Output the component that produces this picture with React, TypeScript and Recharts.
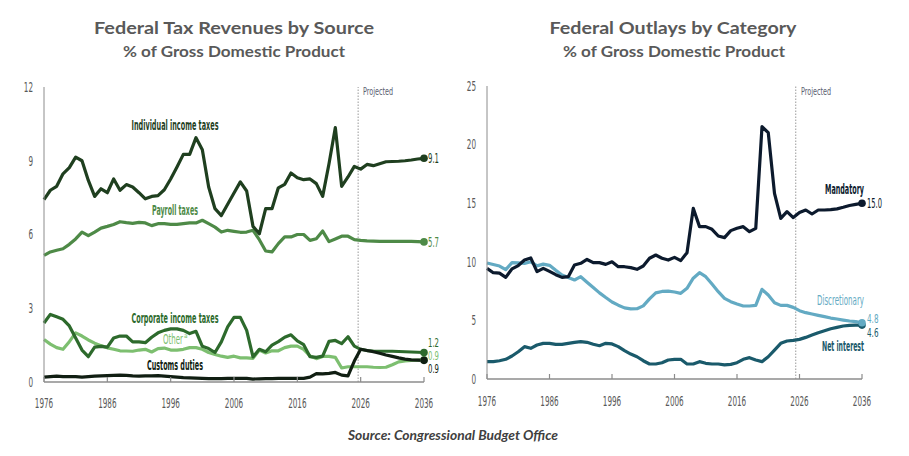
import React from 'react';
import { LineChart, Line, XAxis, YAxis, ReferenceLine } from 'recharts';

const years = [
  1976, 1977, 1978, 1979, 1980, 1981, 1982, 1983, 1984, 1985,
  1986, 1987, 1988, 1989, 1990, 1991, 1992, 1993, 1994, 1995,
  1996, 1997, 1998, 1999, 2000, 2001, 2002, 2003, 2004, 2005,
  2006, 2007, 2008, 2009, 2010, 2011, 2012, 2013, 2014, 2015,
  2016, 2017, 2018, 2019, 2020, 2021, 2022, 2023, 2024, 2025,
  2026, 2027, 2028, 2029, 2030, 2031, 2032, 2033, 2034, 2035, 2036,
];

// revenues, % of GDP
const individualIncome = [
  7.42, 7.8, 7.96, 8.47, 8.72, 9.15, 9.0, 8.2, 7.55, 7.86,
  7.7, 8.26, 7.8, 8.03, 7.93, 7.7, 7.45, 7.55, 7.58, 7.82,
  8.26, 8.75, 9.26, 9.26, 9.94, 9.45, 7.93, 7.05, 6.77, 7.23,
  7.69, 8.14, 7.77, 6.33, 6.03, 7.05, 7.05, 7.9, 8.04, 8.5,
  8.31, 8.23, 8.26, 8.07, 7.55, 8.88, 10.35, 7.96, 8.34, 8.77,
  8.66, 8.85, 8.8, 8.88, 8.96, 8.97, 8.98, 9.0, 9.03, 9.07, 9.1,
];
const payroll = [
  5.15, 5.29, 5.36, 5.42, 5.6, 5.82, 6.1, 5.95, 6.1, 6.26,
  6.33, 6.41, 6.52, 6.48, 6.45, 6.49, 6.47, 6.36, 6.44, 6.44,
  6.41, 6.41, 6.44, 6.47, 6.47, 6.58, 6.44, 6.3, 6.1, 6.17,
  6.13, 6.09, 6.1, 6.17, 5.79, 5.33, 5.29, 5.63, 5.9, 5.9,
  6.0, 6.0, 5.76, 5.83, 6.14, 5.71, 5.82, 5.93, 5.93, 5.79,
  5.76, 5.74, 5.73, 5.72, 5.72, 5.72, 5.72, 5.72, 5.72, 5.71, 5.7,
];
const corporate = [
  2.4, 2.75, 2.65, 2.55, 2.28, 1.79, 1.3, 1.03, 1.42, 1.45,
  1.42, 1.79, 1.87, 1.87, 1.63, 1.63, 1.6, 1.82, 2.0, 2.1,
  2.16, 2.16, 2.1, 1.97, 2.06, 1.45, 1.36, 1.2, 1.63, 2.24,
  2.63, 2.63, 2.1, 1.02, 1.33, 1.23, 1.5, 1.64, 1.82, 1.92,
  1.67, 1.52, 1.03, 1.0, 1.05, 1.65, 1.69, 1.56, 1.84, 1.46,
  1.33, 1.28, 1.26, 1.25, 1.25, 1.25, 1.24, 1.23, 1.22, 1.21, 1.2,
];
const other = [
  1.73, 1.54, 1.4, 1.33, 1.64, 2.0, 1.87, 1.71, 1.58, 1.48,
  1.39, 1.33, 1.27, 1.26, 1.25, 1.3, 1.33, 1.22, 1.36, 1.38,
  1.3, 1.3, 1.33, 1.4, 1.4, 1.33, 1.2, 1.12, 1.05, 1.0,
  1.05, 0.98, 0.98, 0.96, 1.3, 1.18, 1.27, 1.27, 1.4, 1.46,
  1.46, 1.33, 1.06, 0.95, 1.04, 1.04, 1.0, 0.57, 0.62, 0.62,
  0.62, 0.62, 0.6, 0.59, 0.6, 0.7, 0.82, 0.86, 0.88, 0.89, 0.9,
];
const customs = [
  0.2, 0.22, 0.24, 0.22, 0.22, 0.22, 0.2, 0.22, 0.24, 0.25,
  0.26, 0.27, 0.28, 0.27, 0.25, 0.24, 0.25, 0.25, 0.26, 0.24,
  0.22, 0.2, 0.18, 0.17, 0.16, 0.15, 0.14, 0.14, 0.14, 0.15,
  0.15, 0.15, 0.15, 0.12, 0.13, 0.14, 0.14, 0.15, 0.15, 0.15,
  0.15, 0.15, 0.2, 0.34, 0.33, 0.35, 0.39, 0.28, 0.25, 0.85,
  1.33, 1.28, 1.23, 1.17, 1.1, 1.04, 0.98, 0.93, 0.9, 0.89, 0.88,
];

// outlays, % of GDP
const mandatory = [
  9.44, 9.07, 9.03, 8.67, 9.4, 9.68, 10.15, 10.33, 9.16, 9.44,
  9.18, 8.9, 8.67, 8.73, 9.73, 9.87, 10.2, 9.93, 9.93, 9.78,
  10.0, 9.58, 9.58, 9.5, 9.36, 9.64, 10.3, 10.58, 10.3, 10.15,
  10.38, 10.1, 10.78, 14.56, 13.0, 13.0, 12.77, 12.2, 12.06, 12.66,
  12.86, 13.0, 12.57, 12.86, 21.53, 21.02, 15.84, 13.7, 14.28, 13.77,
  14.2, 14.42, 14.08, 14.42, 14.42, 14.45, 14.52, 14.65, 14.8, 14.9, 15.0,
];
const discretionary = [
  9.9, 9.77, 9.64, 9.33, 9.93, 9.9, 9.87, 10.0, 9.65, 9.8,
  9.7, 9.27, 8.87, 8.66, 8.45, 8.73, 8.26, 7.8, 7.35, 6.95,
  6.57, 6.3, 6.07, 5.98, 6.0, 6.24, 6.84, 7.35, 7.47, 7.5,
  7.42, 7.31, 7.74, 8.6, 9.07, 8.73, 8.1, 7.45, 6.88, 6.6,
  6.4, 6.23, 6.23, 6.28, 7.65, 7.17, 6.51, 6.28, 6.28, 6.11,
  5.83, 5.66, 5.55, 5.43, 5.32, 5.2, 5.12, 5.03, 4.95, 4.89, 4.8,
];
const netInterest = [
  1.48, 1.48, 1.56, 1.68, 1.96, 2.33, 2.76, 2.62, 2.9, 3.04,
  3.04, 2.96, 2.96, 3.04, 3.13, 3.19, 3.13, 2.96, 2.84, 3.04,
  2.99, 2.76, 2.42, 2.13, 1.9, 1.56, 1.28, 1.28, 1.39, 1.62,
  1.68, 1.68, 1.28, 1.28, 1.48, 1.34, 1.28, 1.28, 1.2, 1.25,
  1.39, 1.68, 1.82, 1.62, 1.48, 1.9, 2.47, 3.04, 3.24, 3.3,
  3.38, 3.55, 3.75, 3.95, 4.12, 4.29, 4.4, 4.52, 4.58, 4.6, 4.6,
];

const xTicks = [1976, 1986, 1996, 2006, 2016, 2026, 2036];
const leftYTicks = [0, 3, 6, 9, 12];
const rightYTicks = [0, 5, 10, 15, 20, 25];

const leftRows = years.map((year, i) => ({
  year,
  individualIncome: individualIncome[i],
  payroll: payroll[i],
  corporate: corporate[i],
  other: other[i],
  customs: customs[i],
}));
const rightRows = years.map((year, i) => ({
  year,
  mandatory: mandatory[i],
  discretionary: discretionary[i],
  netInterest: netInterest[i],
}));

const NARROW = "'Liberation Sans Narrow', 'DejaVu Sans Condensed', Roboto, 'Liberation Sans', sans-serif";
const TITLE = "Lato, 'Open Sans', sans-serif";
const AXIS = '#8c8c8c';
const TICK_TEXT = '#595959';

const C = {
  individual: '#1f3f1f',
  payroll: '#4e8a47',
  corporate: '#2d6a2c',
  other: '#7dbf70',
  customs: '#101e12',
  mandatory: '#0c1a2d',
  discretionary: '#63aac3',
  netInterest: '#1a5a6b',
};

const XTick = (gap: number) => (props: any) => {
  const { x, y, payload } = props;
  const s = String(payload.value);
  return (
    <g>
      <line x1={x} y1={y} x2={x} y2={y - 5} stroke={AXIS} strokeWidth={1.2} />
      <text x={x} y={y + gap} textAnchor="middle" fontSize={13.5} fill={TICK_TEXT}
        fontFamily={NARROW} textLength={s.length * 4.6} lengthAdjust="spacingAndGlyphs">{s}</text>
    </g>
  );
};

const YTick = (props: any) => {
  const { x, y, payload } = props;
  const s = String(payload.value);
  return (
    <text x={x - 11} y={y + 4.8} textAnchor="end" fontSize={13.5} fill={TICK_TEXT}
      fontFamily={NARROW} textLength={s.length * 4.6} lengthAdjust="spacingAndGlyphs">{s}</text>
  );
};

const endDot = (color: string) => (p: any) =>
  p.index === years.length - 1
    ? <circle key={`d${p.index}`} cx={p.cx} cy={p.cy} r={3.8} fill={color} />
    : <g key={`d${p.index}`} />;

type LabelProps = {
  x: number; y: number; w: number; fill: string; size?: number;
  anchor?: 'start' | 'middle' | 'end'; weight?: string | number; children: React.ReactNode;
};
const Lbl = ({ x, y, w, fill, size = 13.5, anchor = 'middle', weight = 'bold', children }: LabelProps) => (
  <text x={x} y={y} textAnchor={anchor} fontSize={size} fill={fill} fontFamily={NARROW}
    fontWeight={weight} textLength={w} lengthAdjust="spacingAndGlyphs">{children}</text>
);

const lineProps = {
  type: 'linear' as const,
  strokeWidth: 3.2,
  strokeLinejoin: 'round' as const,
  isAnimationActive: false,
  activeDot: false as const,
};

export default function App() {
  return (
    <div style={{ position: 'absolute', left: 0, top: 0, width: 909, height: 456, background: '#fff' }}>
      <div style={{ position: 'absolute', left: 0, top: 0 }}>
        <LineChart width={450} height={410} data={leftRows} margin={{ top: 87, right: 26, bottom: 0, left: 14 }}>
          <XAxis dataKey="year" type="number" domain={[1976, 2036]} ticks={xTicks} height={28}
            stroke={AXIS} strokeWidth={1.5} tickSize={0} tickMargin={0} tick={XTick(26)} interval={0} />
          <YAxis type="number" domain={[0, 12]} ticks={leftYTicks} width={30} stroke={AXIS}
            tickSize={0} tickMargin={0} tick={YTick} interval={0} />
          <ReferenceLine x={2025.6} stroke="#9a9a9a" strokeDasharray="1.5 1.5" strokeWidth={1} />
          <Line {...lineProps} dataKey="other" stroke={C.other} dot={endDot(C.other)} />
          <Line {...lineProps} dataKey="payroll" stroke={C.payroll} dot={endDot(C.payroll)} />
          <Line {...lineProps} dataKey="corporate" stroke={C.corporate} dot={endDot(C.corporate)} />
          <Line {...lineProps} dataKey="customs" stroke={C.customs} dot={endDot(C.customs)} />
          <Line {...lineProps} dataKey="individualIncome" stroke={C.individual} dot={endDot(C.individual)} />
        </LineChart>
      </div>
      <div style={{ position: 'absolute', left: 450, top: 0 }}>
        <LineChart width={459} height={410} data={rightRows} margin={{ top: 86, right: 47, bottom: 0, left: 7 }}>
          <XAxis dataKey="year" type="number" domain={[1976, 2036]} ticks={xTicks} height={31}
            stroke={AXIS} strokeWidth={1.5} tickSize={0} tickMargin={0} tick={XTick(27)} interval={0} />
          <YAxis type="number" domain={[0, 25]} ticks={rightYTicks} width={30} stroke={AXIS}
            tickSize={0} tickMargin={0} tick={YTick} interval={0} />
          <ReferenceLine x={2025.4} stroke="#9a9a9a" strokeDasharray="1.5 1.5" strokeWidth={1} />
          <Line {...lineProps} dataKey="netInterest" stroke={C.netInterest} dot={endDot(C.netInterest)} />
          <Line {...lineProps} dataKey="discretionary" stroke={C.discretionary} dot={endDot(C.discretionary)} />
          <Line {...lineProps} dataKey="mandatory" stroke={C.mandatory} dot={endDot(C.mandatory)} />
        </LineChart>
      </div>
      <svg width={909} height={456} style={{ position: 'absolute', left: 0, top: 0, pointerEvents: 'none' }}>
        <g fontFamily={TITLE} fontWeight="bold" fill="#595959" textAnchor="middle">
          <text x={234} y={33.5} fontSize={17.5} textLength={280} lengthAdjust="spacingAndGlyphs">Federal Tax Revenues by Source</text>
          <text x={234} y={57} fontSize={15} textLength={222} lengthAdjust="spacingAndGlyphs">% of Gross Domestic Product</text>
          <text x={673} y={33.5} fontSize={17.5} textLength={247} lengthAdjust="spacingAndGlyphs">Federal Outlays by Category</text>
          <text x={674} y={57} fontSize={15} textLength={222} lengthAdjust="spacingAndGlyphs">% of Gross Domestic Product</text>
        </g>
        <text x={453} y={440} textAnchor="middle" fontFamily={TITLE} fontStyle="italic" fontWeight="bold"
          fontSize={12.5} fill="#404040" textLength={210} lengthAdjust="spacingAndGlyphs">Source: Congressional Budget Office</text>

        {/* left chart annotations */}
        <Lbl x={363} y={95} w={30} fill="#5a6070" size={10} anchor="start" weight="normal">Projected</Lbl>
        <Lbl x={175} y={129.5} w={87} fill={C.individual}>Individual income taxes</Lbl>
        <Lbl x={175} y={215} w={46} fill={C.payroll}>Payroll taxes</Lbl>
        <Lbl x={175} y={322.5} w={87} fill={C.corporate}>Corporate income taxes</Lbl>
        <text x={163} y={344} fontSize={13.5} fill={C.other} fontFamily={NARROW}>
          <tspan textLength={20} lengthAdjust="spacingAndGlyphs">Other</tspan>
          <tspan dx={1} dy={-6} fontSize={6.5}>a</tspan>
        </text>
        <Lbl x={175} y={370} w={56} fill={C.customs}>Customs duties</Lbl>
        <Lbl x={428} y={163} w={11} fill={C.individual} size={14.5} anchor="start" weight="normal">9.1</Lbl>
        <Lbl x={428} y={246.5} w={11} fill={C.payroll} size={14.5} anchor="start" weight="normal">5.7</Lbl>
        <Lbl x={428} y={346.5} w={11} fill={C.corporate} size={11.5} anchor="start" weight="normal">1.2</Lbl>
        <Lbl x={428} y={359.5} w={11} fill={C.other} size={11.5} anchor="start" weight="normal">0.9</Lbl>
        <Lbl x={428} y={372.5} w={11} fill={C.customs} size={11.5} anchor="start" weight="normal">0.9</Lbl>

        {/* right chart annotations */}
        <Lbl x={801} y={95} w={30} fill="#5a6070" size={10} anchor="start" weight="normal">Projected</Lbl>
        <Lbl x={864} y={194} w={39} fill={C.mandatory} anchor="end">Mandatory</Lbl>
        <Lbl x={867} y={208} w={15} fill={C.mandatory} size={14.5} anchor="start" weight="normal">15.0</Lbl>
        <Lbl x={864} y={304.5} w={47} fill={C.discretionary} anchor="end" weight="normal">Discretionary</Lbl>
        <Lbl x={867} y={322.5} w={11.5} fill={C.discretionary} size={12} anchor="start" weight="normal">4.8</Lbl>
        <Lbl x={867} y={336.5} w={11.5} fill={C.netInterest} size={12} anchor="start" weight="normal">4.6</Lbl>
        <Lbl x={864} y={351} w={42} fill={C.netInterest} anchor="end">Net interest</Lbl>
      </svg>
    </div>
  );
}
